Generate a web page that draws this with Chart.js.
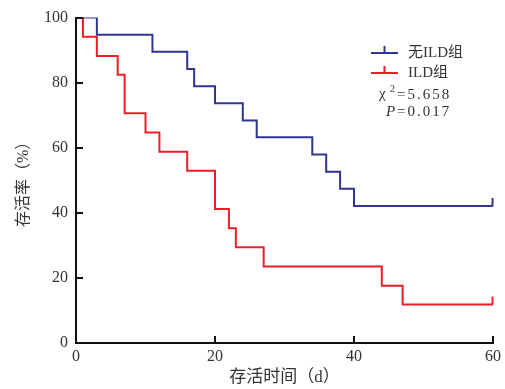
<!DOCTYPE html>
<html>
<head>
<meta charset="utf-8">
<script src="https://cdn.jsdelivr.net/npm/chart.js@4"></script>
<style>
  html, body { margin: 0; padding: 0; background: #fff; }
  #wrap { width: 505px; height: 389px; }
</style>
</head>
<body>
<div id="wrap"><canvas id="kmChart"></canvas></div>
<script>
// survival data (time in days, survival in %)
const noIldTime = [0, 3, 11, 16, 17, 20, 24, 26, 34, 36, 38, 40, 60];
const noIldSurv = [100, 94.7, 89.5, 84.2, 78.9, 73.7, 68.4, 63.2, 57.9, 52.6, 47.4, 42.1, 42.1];
const ildTime = [0, 1, 3, 6, 7, 10, 12, 16, 20, 22, 23, 27, 44, 47, 60];
const ildSurv = [100, 94.1, 88.2, 82.4, 70.6, 64.7, 58.8, 52.9, 41.2, 35.3, 29.4, 23.5, 17.6, 11.8, 11.8];
const seriesNames = ['无ILD组', 'ILD组'];
const xTicks = [0, 20, 40, 60];
const yTicks = [0, 20, 40, 60, 80, 100];
const chiText = '5.658';
const pText = '0.017';

const BLUE = '#2e3592';
const RED = '#ee1d27';
const SERIF = '"Liberation Serif", "Noto Sans CJK SC", serif';

function toPoints(t, s) {
  let pts = [];
  for (let i = 0; i < t.length; i++) {
    pts.push({ x: t[i], y: s[i] });
  }
  return pts;
}

// extra drawing: inward tick marks, censor marks, legend box
const extras = {
  id: 'extras',
  afterDatasetsDraw(chart) {
    const ctx = chart.ctx;
    const xs = chart.scales.x;
    const ys = chart.scales.y;
    const area = chart.chartArea;
    ctx.save();
    ctx.strokeStyle = '#111';
    ctx.lineWidth = 2;
    ctx.beginPath();
    yTicks.forEach(v => {
      let py = Math.round(ys.getPixelForValue(v));
      ctx.moveTo(area.left, py);
      ctx.lineTo(area.left + 7, py);
    });
    xTicks.forEach(v => {
      if (v === 0) return;
      let px = Math.round(xs.getPixelForValue(v));
      ctx.moveTo(px, area.bottom);
      ctx.lineTo(px, area.bottom - 7);
    });
    ctx.stroke();

    // censor marks at the end of each curve
    const ends = [
      [noIldTime[noIldTime.length - 1], noIldSurv[noIldSurv.length - 1], BLUE],
      [ildTime[ildTime.length - 1], ildSurv[ildSurv.length - 1], RED]
    ];
    ends.forEach(e => {
      let px = xs.getPixelForValue(e[0]);
      let py = ys.getPixelForValue(e[1]);
      ctx.strokeStyle = e[2];
      ctx.beginPath();
      ctx.moveTo(px - 0.5, py);
      ctx.lineTo(px - 0.5, py - 8);
      ctx.stroke();
    });

    // legend
    const colors = [BLUE, RED];
    ctx.font = '15px ' + SERIF;
    ctx.textBaseline = 'middle';
    ctx.textAlign = 'left';
    for (let i = 0; i < 2; i++) {
      let ly = 53 + i * 20;
      ctx.strokeStyle = colors[i];
      ctx.beginPath();
      ctx.moveTo(371, ly);
      ctx.lineTo(398, ly);
      ctx.moveTo(384.5, ly);
      ctx.lineTo(384.5, ly - 7);
      ctx.stroke();
      ctx.fillStyle = '#333';
      ctx.fillText(seriesNames[i], 408, ly);
    }
    // chi-square and P value
    ctx.fillStyle = '#333';
    ctx.font = '15px ' + SERIF;
    ctx.fillText('χ', 379, 94);
    ctx.font = '10px ' + SERIF;
    ctx.fillText('2', 390, 89);
    ctx.font = '15px ' + SERIF;
    ctx.letterSpacing = '2px';
    ctx.fillText('=' + chiText, 397, 95);
    ctx.fillText('=' + pText, 397, 112);
    ctx.letterSpacing = '0px';
    ctx.font = 'italic 15px ' + SERIF;
    ctx.fillText('P', 386, 112);
    ctx.restore();
  }
};

const config = {
  type: 'line',
  data: {
    datasets: [
      {
        label: seriesNames[0],
        data: toPoints(noIldTime, noIldSurv),
        borderColor: BLUE,
        borderWidth: 2,
        stepped: 'before',
        pointRadius: 0,
        fill: false
      },
      {
        label: seriesNames[1],
        data: toPoints(ildTime, ildSurv),
        borderColor: RED,
        borderWidth: 2,
        stepped: 'before',
        pointRadius: 0,
        fill: false
      }
    ]
  },
  options: {
    responsive: true,
    maintainAspectRatio: false,
    animation: false,
    layout: { padding: { left: 0, right: 12, top: 16, bottom: 0 } },
    plugins: {
      legend: { display: false },
      tooltip: { enabled: false }
    },
    scales: {
      x: {
        type: 'linear',
        min: 0,
        max: 60,
        afterBuildTicks: s => { s.ticks = xTicks.map(v => ({ value: v })); },
        ticks: { color: '#333', padding: 4, maxRotation: 0, font: { family: SERIF, size: 16 } },
        grid: { display: true, drawOnChartArea: false, drawTicks: false, color: '#111' },
        border: { display: true, width: 2, color: '#111' },
        title: {
          display: true,
          text: '存活时间（d）',
          color: '#333',
          font: { family: SERIF, size: 17 },
          padding: { top: 0, bottom: 1 }
        },
        afterFit: s => { s.height = 46; }
      },
      y: {
        type: 'linear',
        min: 0,
        max: 100,
        afterBuildTicks: s => { s.ticks = yTicks.map(v => ({ value: v })); },
        ticks: { color: '#333', padding: 8, font: { family: SERIF, size: 16 } },
        grid: { display: true, drawOnChartArea: false, drawTicks: false, color: '#111' },
        border: { display: true, width: 2, color: '#111' },
        title: {
          display: true,
          text: '存活率（%）',
          color: '#333',
          font: { family: SERIF, size: 16 },
          padding: { top: 14, bottom: 0 }
        },
        afterFit: s => { s.width = 76; }
      }
    }
  },
  plugins: [extras]
};

new Chart(document.getElementById('kmChart').getContext('2d'), config);
</script>
</body>
</html>
